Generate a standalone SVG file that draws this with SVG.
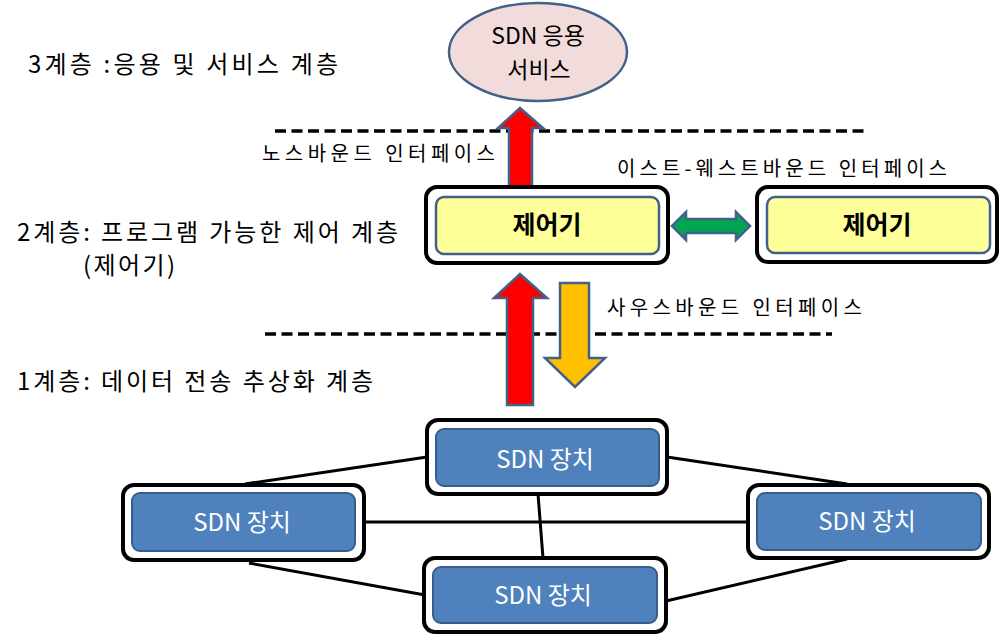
<svg xmlns="http://www.w3.org/2000/svg" width="1000" height="635" viewBox="0 0 1000 635">
<style>
text{font-family:"Noto Sans CJK KR","Noto Sans",sans-serif;fill:#000}
.lbl{font-size:20px}
.lay{font-size:24px}
.outer{fill:#fff;stroke:#000;stroke-width:4}
.ctl{fill:#FFFF99;stroke:#41618A;stroke-width:2.5}
.dev{fill:#4F81BD;stroke:#385D8A;stroke-width:2}
.devt{font-size:24px;fill:#fff;text-anchor:middle}
.ctlt{font-size:25px;font-weight:bold;text-anchor:middle}
.dash{stroke:#000;stroke-width:3.5;stroke-dasharray:11 5.5;fill:none}
.link{stroke:#000;stroke-width:3;fill:none}
.arr{stroke:#41618A;stroke-width:2.5;stroke-linejoin:miter}
.appt{font-size:23px;text-anchor:middle}
</style>
<g id="layer-labels">
<text class="lay" x="28" y="73" textLength="310" lengthAdjust="spacing">3계층 :응용 및 서비스 계층</text>
<text class="lay" x="17" y="241" textLength="381" lengthAdjust="spacing">2계층: 프로그램 가능한 제어 계층</text>
<text class="lay" x="83" y="274" textLength="92" lengthAdjust="spacing">(제어기)</text>
<text class="lay" x="17" y="390" textLength="356" lengthAdjust="spacing">1계층: 데이터 전송 추상화 계층</text>
<text class="lbl" x="262" y="161" textLength="233" lengthAdjust="spacing">노스바운드 인터페이스</text>
<text class="lbl" x="617" y="176" textLength="330" lengthAdjust="spacing">이스트-웨스트바운드 인터페이스</text>
<text class="lbl" x="607" y="315" textLength="255" lengthAdjust="spacing">사우스바운드 인터페이스</text>
</g>
<g id="boundaries">
<line class="dash" x1="275" y1="131" x2="868" y2="131"/>
<line class="dash" x1="265" y1="334" x2="832" y2="334"/>
</g>
<g id="connectors">
<line class="link" x1="245" y1="484" x2="427" y2="457"/>
<line class="link" x1="667" y1="457" x2="847" y2="484"/>
<line class="link" x1="364" y1="522" x2="748" y2="522"/>
<line class="link" x1="538" y1="494" x2="543" y2="558"/>
<line class="link" x1="249" y1="563" x2="425" y2="595"/>
<line class="link" x1="666" y1="601" x2="847" y2="559"/>
<polygon class="arr" fill="#FF0000" points="520,108 543,128 532,128 532,187 509,187 509,128 498,128"/>
<polygon class="arr" fill="#FF0000" points="520,274 547,298 533,298 533,405 507,405 507,298 494,298"/>
<polygon class="arr" fill="#FFC000" points="560,283 589,283 589,358 605,358 575,387 545,358 560,358"/>
<polygon class="arr" fill="#00A650" points="672,226 686,212 686,219 736,219 736,212 750,226 736,240 736,233 686,233 686,240"/>
</g>
<g id="app">
<ellipse cx="538" cy="52" rx="89" ry="49" fill="#F2DCDB" stroke="#41618A" stroke-width="2.5"/>
<text class="appt" x="538" y="44">SDN 응용</text>
<text class="appt" x="539" y="78">서비스</text>
</g>
<g id="controller1">
<rect class="outer" x="426" y="187" width="242" height="76" rx="11"/>
<rect class="ctl" x="436" y="197" width="223" height="57" rx="8"/>
<text class="ctlt" x="547" y="234">제어기</text>
</g>
<g id="controller2">
<rect class="outer" x="757" y="187" width="240" height="75" rx="11"/>
<rect class="ctl" x="767" y="197" width="223" height="56" rx="8"/>
<text class="ctlt" x="877" y="234">제어기</text>
</g>
<g id="device-top">
<rect class="outer" x="427" y="420" width="240" height="74" rx="11"/>
<rect class="dev" x="436" y="429" width="223" height="57" rx="8"/>
<text class="devt" x="545" y="468">SDN 장치</text>
</g>
<g id="device-left">
<rect class="outer" x="123" y="485" width="241" height="75" rx="11"/>
<rect class="dev" x="132" y="493" width="223" height="58" rx="8"/>
<text class="devt" x="242" y="531">SDN 장치</text>
</g>
<g id="device-right">
<rect class="outer" x="748" y="485" width="241" height="73" rx="11"/>
<rect class="dev" x="757" y="493" width="224" height="57" rx="8"/>
<text class="devt" x="867" y="530">SDN 장치</text>
</g>
<g id="device-bottom">
<rect class="outer" x="424" y="558" width="242" height="74" rx="11"/>
<rect class="dev" x="433" y="567" width="224" height="56" rx="8"/>
<text class="devt" x="543" y="604">SDN 장치</text>
</g>
</svg>
